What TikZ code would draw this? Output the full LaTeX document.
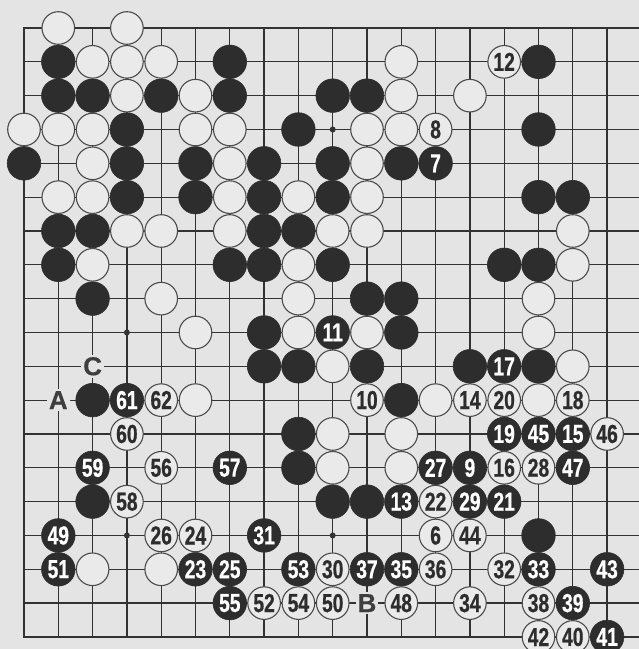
\documentclass[tikz,border=0pt]{standalone}
\usepackage{fontspec}
\newfontfamily\numfont[FakeStretch=0.74, BoldFeatures={FakeBold=0.6}]{Liberation Sans}
\newfontfamily\labfont[BoldFeatures={FakeBold=0.4}]{Liberation Sans}
\definecolor{bg}{RGB}{228,228,228}
\definecolor{gridc}{RGB}{50,50,50}
\definecolor{blk}{RGB}{45,45,45}
\definecolor{wht}{RGB}{234,234,234}
\definecolor{wline}{RGB}{75,75,75}
\definecolor{labc}{RGB}{62,62,62}
\begin{document}
\begin{tikzpicture}[
 numtext/.style={font=\numfont\bfseries\fontsize{26}{26}\selectfont},
 bstone/.style={circle, fill=blk, draw=blk, line width=0.6pt, minimum size=33.6pt, inner sep=0pt, text=white, numtext},
 wstone/.style={circle, fill=wht, draw=wline, line width=1.1pt, minimum size=32.6pt, inner sep=0pt, text=blk, numtext},
 lab/.style={fill=bg, inner sep=2pt, text=labc, font=\labfont\bfseries\fontsize{26}{26}\selectfont},
 gridline/.style={draw=gridc, line width=1.25pt},
 edgeline/.style={draw=gridc, line width=2.8pt},
 hoshi/.style={circle, fill=gridc, minimum size=6pt, inner sep=0pt}
]
\useasboundingbox (0,0) rectangle (639pt,-649pt);
\fill[bg] (0,0) rectangle (639pt,-649pt);
\clip (0,0) rectangle (639pt,-649pt);
\begin{scope}[shift={(24pt,-28pt)}, x=34.3pt, y=-33.83pt]
% grid
\foreach \r in {1,...,17} \draw[gridline] (0,\r) -- (18.6,\r);
\foreach \c in {1,...,18} \draw[gridline] (\c,0) -- (\c,18);
\draw[edgeline] (18.6,0) -- (0,0) -- (0,18) -- (18.6,18);
% star points
\foreach \c/\r [count=\i] in {3/3,3/9,3/15,9/3,9/9,9/15,15/3,15/9,15/15}
  \node[hoshi] (h\i) at (\c,\r) {};
% black stones
\foreach \c/\r in {1/1,6/1,15/1,
  1/2,2/2,4/2,6/2,9/2,10/2,
  3/3,8/3,15/3,
  0/4,3/4,5/4,7/4,9/4,11/4,
  3/5,5/5,7/5,9/5,15/5,16/5,
  1/6,2/6,7/6,8/6,
  1/7,6/7,7/7,9/7,14/7,15/7,
  2/8,10/8,11/8,
  7/9,11/9,
  7/10,8/10,10/10,13/10,15/10,
  2/11,11/11,
  8/12,8/13,
  2/14,9/14,10/14,
  15/15}
  \node[bstone] (b\c-\r) at (\c,\r) {};
% white stones
\foreach \c/\r in {1/0,3/0,
  2/1,3/1,4/1,11/1,
  3/2,5/2,11/2,13/2,
  0/3,1/3,2/3,5/3,6/3,10/3,11/3,
  2/4,6/4,10/4,
  1/5,2/5,6/5,8/5,10/5,
  3/6,4/6,6/6,9/6,10/6,16/6,
  2/7,8/7,16/7,
  4/8,8/8,15/8,
  5/9,8/9,10/9,15/9,
  9/10,16/10,
  5/11,12/11,15/11,
  9/12,11/12,
  9/13,11/13,
  2/16,4/16}
  \node[wstone] (w\c-\r) at (\c,\r) {};
% numbered black
\foreach \c/\r/\n in {12/4/7,13/13/9,9/9/11,11/14/13,16/12/15,14/10/17,14/12/19,
  14/14/21,5/16/23,6/16/25,12/13/27,13/14/29,7/15/31,15/16/33,11/16/35,10/16/37,
  16/17/39,17/18/41,17/16/43,15/12/45,16/13/47,1/15/49,1/16/51,8/16/53,6/17/55,
  6/13/57,2/13/59,3/11/61}
  \node[bstone] (m\n) at (\c,\r) {\n};
% numbered white
\foreach \c/\r/\n in {12/15/6,12/3/8,10/11/10,14/1/12,13/11/14,14/13/16,16/11/18,
  14/11/20,12/14/22,5/15/24,4/15/26,15/13/28,9/16/30,14/16/32,13/17/34,12/16/36,
  15/17/38,16/18/40,15/18/42,13/15/44,17/12/46,11/17/48,9/17/50,7/17/52,8/17/54,
  4/13/56,3/14/58,3/12/60,4/11/62}
  \node[wstone] (m\n) at (\c,\r) {\n};
% letters
\node[lab] (lA) at (1,11) {A};
\node[lab] (lB) at (10,17) {B};
\node[lab] (lC) at (2,10) {C};
\end{scope}
\end{tikzpicture}
\end{document}
